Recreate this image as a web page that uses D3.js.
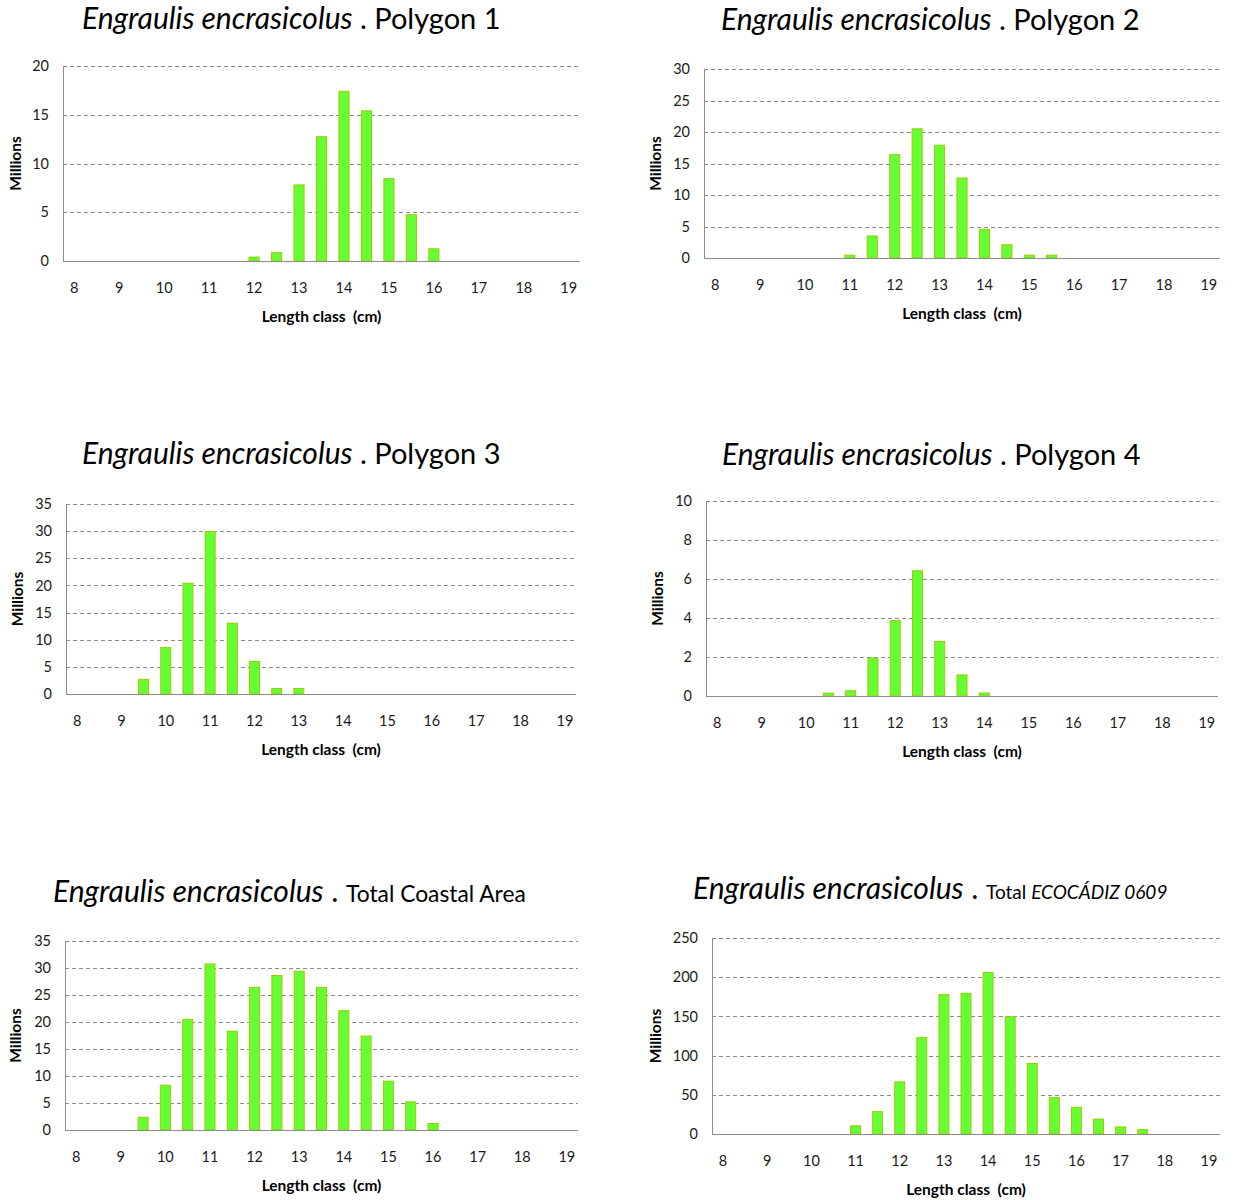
<!DOCTYPE html>
<html>
<head>
<meta charset="utf-8">
<script src="https://cdn.jsdelivr.net/npm/d3@7"></script>
<style>
  html, body { margin: 0; padding: 0; background: #ffffff; }
  svg { display: block; }
  .tick-label { font-family: Lato, "Open Sans", sans-serif; font-size: 14.5px; fill: #1a1a1a; }
  .axis-title { font-family: Lato, "Open Sans", sans-serif; font-size: 15.5px; font-weight: bold; fill: #000; }
  .chart-title { font-family: Lato, "Open Sans", sans-serif; fill: #000; }
</style>
</head>
<body>
<svg id="chart" width="1237" height="1200"></svg>
<script>
// Length classes (cm), half-centimetre steps; only whole centimetres are labelled.
const lengthClasses = [8, 8.5, 9, 9.5, 10, 10.5, 11, 11.5, 12, 12.5, 13, 13.5, 14, 14.5, 15, 15.5, 16, 16.5, 17, 17.5, 18, 18.5, 19];
const tickLabels = ["8", "9", "10", "11", "12", "13", "14", "15", "16", "17", "18", "19"];

// Abundance by length class, millions of fish
const polygon1 = [0, 0, 0, 0, 0, 0, 0, 0, 0.4, 0.85, 7.8, 12.75, 17.4, 15.4, 8.45, 4.75, 1.25, 0, 0, 0, 0, 0, 0];
const polygon2 = [0, 0, 0, 0, 0, 0, 0.45, 3.5, 16.4, 20.5, 17.9, 12.7, 4.55, 2.1, 0.45, 0.45, 0, 0, 0, 0, 0, 0, 0];
const polygon3 = [0, 0, 0, 2.7, 8.55, 20.4, 29.9, 13.05, 6.0, 1.0, 1.0, 0, 0, 0, 0, 0, 0, 0, 0, 0, 0, 0, 0];
const polygon4 = [0, 0, 0, 0, 0, 0.15, 0.27, 1.95, 3.87, 6.42, 2.8, 1.08, 0.15, 0, 0, 0, 0, 0, 0, 0, 0, 0, 0];
const coastalTotal = [0, 0, 0, 2.35, 8.3, 20.5, 30.75, 18.3, 26.4, 28.6, 29.4, 26.4, 22.1, 17.4, 9.05, 5.2, 1.2, 0, 0, 0, 0, 0, 0];
const surveyTotal = [0, 0, 0, 0, 0, 0, 10.5, 28.5, 66.5, 123, 178, 179.5, 206, 149.5, 90, 46.5, 34, 19, 9, 5.5, 0, 0, 0];

// Y-axis ticks per panel
const ticks20 = [0, 5, 10, 15, 20];
const ticks30 = [0, 5, 10, 15, 20, 25, 30];
const ticks35 = [0, 5, 10, 15, 20, 25, 30, 35];
const ticks10 = [0, 2, 4, 6, 8, 10];
const ticks250 = [0, 50, 100, 150, 200, 250];

const species = "Engraulis encrasicolus";

// Panel layout: plot box, title placement and font sizes
const big = 30;
const panels = [
  { values: polygon1, ticks: ticks20, box: [63, 580, 66, 261], title: [[species, "italic", big], [" . Polygon 1", "normal", 29]], tx: 82, ty: 29, mx: 16 },
  { values: polygon2, ticks: ticks30, box: [704, 1220, 69, 258], title: [[species, "italic", big], [" . Polygon 2", "normal", 29]], tx: 721, ty: 30, mx: 656 },
  { values: polygon3, ticks: ticks35, box: [66, 576, 504, 694], title: [[species, "italic", big], [" . Polygon 3", "normal", 29]], tx: 82, ty: 464, mx: 18 },
  { values: polygon4, ticks: ticks10, box: [706, 1218, 501, 696], title: [[species, "italic", big], [" . Polygon 4", "normal", 29]], tx: 722, ty: 465, mx: 658 },
  { values: coastalTotal, ticks: ticks35, box: [65, 578, 941, 1130], title: [[species, "italic", big], [" . ", "normal", big], ["Total Coastal Area", "normal", 22.8]], tx: 53, ty: 902, mx: 16 },
  { values: surveyTotal, ticks: ticks250, box: [712, 1220, 938, 1134], title: [[species, "italic", big], [" . ", "normal", big], ["Total ", "normal", 19], ["ECOCÁDIZ 0609", "italic", 19]], tx: 693, ty: 899, mx: 656 }
];

const svg = d3.select("#chart");

panels.forEach(p => {
  const [left, right, top, bottom] = p.box;
  const g = svg.append("g");

  const x = d3.scaleBand()
    .domain(lengthClasses)
    .range([left, right])
    .paddingInner(0.55)
    .paddingOuter(0.275);

  const y = d3.scaleLinear()
    .domain([0, d3.max(p.ticks)])
    .range([bottom, top]);

  // Dashed horizontal gridlines
  g.selectAll("line.grid")
    .data(p.ticks.filter(t => t > 0))
    .join("line")
    .attr("class", "grid")
    .attr("x1", left).attr("x2", right)
    .attr("y1", d => Math.round(y(d)) + 0.5).attr("y2", d => Math.round(y(d)) + 0.5)
    .attr("stroke", "#8c8c8c")
    .attr("stroke-width", 1)
    .attr("stroke-dasharray", "4,3");

  // Y axis (labels only, axis line drawn separately)
  const yAxis = d3.axisLeft(y).tickValues(p.ticks).tickSize(0).tickPadding(14).tickFormat(d3.format("d"));
  const ya = g.append("g").attr("transform", `translate(${left},0)`).call(yAxis);
  ya.select(".domain").remove();
  ya.selectAll("text").attr("class", "tick-label").attr("font-family", null).attr("font-size", null).attr("fill", null);

  // X axis: whole-centimetre labels under their classes
  const xAxis = d3.axisBottom(x).tickSize(0).tickPadding(22)
    .tickFormat(d => (Number.isInteger(d) ? tickLabels[d - 8] : ""));
  const xa = g.append("g").attr("transform", `translate(0,${bottom})`).call(xAxis);
  xa.select(".domain").remove();
  xa.selectAll("text").attr("class", "tick-label").attr("font-family", null).attr("font-size", null).attr("fill", null);

  // Bars
  g.selectAll("rect.bar")
    .data(lengthClasses.map((c, i) => ({ c, v: p.values[i] })).filter(d => d.v > 0))
    .join("rect")
    .attr("class", "bar")
    .attr("x", d => x(d.c))
    .attr("width", x.bandwidth())
    .attr("y", d => y(d.v))
    .attr("height", d => y(0) - y(d.v))
    .attr("fill", "#66ff33")
    .attr("stroke", "#99cc00")
    .attr("stroke-width", 1);

  // Axis lines
  g.append("line")
    .attr("x1", left + 0.5).attr("x2", left + 0.5)
    .attr("y1", top).attr("y2", bottom)
    .attr("stroke", "#8c8c8c").attr("stroke-width", 1);
  g.append("line")
    .attr("x1", left).attr("x2", right)
    .attr("y1", Math.round(bottom) + 0.5).attr("y2", Math.round(bottom) + 0.5)
    .attr("stroke", "#8c8c8c").attr("stroke-width", 1);

  // Axis titles
  g.append("text")
    .attr("class", "axis-title")
    .attr("x", (left + right) / 2)
    .attr("y", bottom + 61)
    .attr("text-anchor", "middle")
    .attr("xml:space", "preserve")
    .text("Length class  (cm)");

  g.append("text")
    .attr("class", "axis-title")
    .attr("transform", `translate(${p.mx + 5},${(top + bottom) / 2}) rotate(-90)`)
    .attr("text-anchor", "middle")
    .text("Millions");

  // Chart title
  const t = g.append("text")
    .attr("class", "chart-title")
    .attr("x", p.tx)
    .attr("y", p.ty)
    .attr("xml:space", "preserve");
  p.title.forEach(([txt, style, size]) => {
    t.append("tspan").attr("font-style", style).attr("font-size", size + "px").text(txt);
  });
});
</script>
</body>
</html>
